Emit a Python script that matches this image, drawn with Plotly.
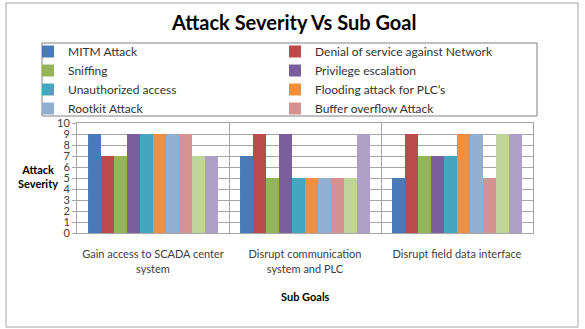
import plotly.graph_objects as go

categories = ["Gain access to SCADA center<br>system", "Disrupt communication<br>system and PLC", "Disrupt field data interface"]
series_names = ["MITM Attack", "Denial of service against Network", "Sniffing", "Privilege escalation",
                "Unauthorized access", "Flooding attack for PLC’s", "Rootkit Attack", "Buffer overflow Attack",
                "Series 9", "Series 10"]
values = [
    [9, 7, 5],
    [7, 9, 9],
    [7, 5, 7],
    [9, 9, 7],
    [9, 5, 7],
    [9, 5, 9],
    [9, 5, 9],
    [9, 5, 5],
    [7, 5, 9],
    [7, 9, 9],
]
in_legend = [True] * 8 + [False, False]
colors = ["#4A7BB7", "#BA4B48", "#96B454", "#7B5F9D", "#47A6BF", "#F0903F",
          "#92AED3", "#D69290", "#BFD49A", "#AE9FC5"]
yticks = list(range(0, 11))

FONT = "Lato"
L, R, T, B = 77, 52, 123, 96
W, H = 585, 329
pw, ph = W - L - R, H - T - B

def px(x):
    return (x - L) / pw

def py(y):
    return (H - B - y) / ph

fig = go.Figure()
for name, vals, col, leg in zip(series_names, values, colors, in_legend):
    fig.add_trace(go.Bar(x=categories, y=vals, name=name, marker=dict(color=col, line=dict(width=0)),
                         showlegend=leg))

fig.update_layout(
    width=W, height=H,
    margin=dict(l=L, r=R, t=T, b=B, autoexpand=False),
    paper_bgcolor="white", plot_bgcolor="white",
    barmode="group", bargap=0.145, bargroupgap=0,
    font=dict(family=FONT, size=12, color="#404040"),
    legend=dict(orientation="h", x=px(28), y=py(37), xanchor="left", yanchor="top",
                entrywidth=202, entrywidthmode="pixels", font=dict(size=12, color="#333333"),
                bgcolor="rgba(0,0,0,0)", borderwidth=0, itemwidth=30, traceorder="normal"),
    xaxis=dict(tickson="boundaries", showgrid=True, gridcolor="#A6A6A6", gridwidth=1,
               showline=True, linecolor="#A6A6A6", mirror=True, ticks="", tickangle=0, automargin=False,
               ticklabelstandoff=11,
               tickfont=dict(size=11, color="#404040", family=FONT)),
    yaxis=dict(range=[0, 10], tickvals=yticks, showgrid=True, gridcolor="#A6A6A6", gridwidth=1,
               showline=True, linecolor="#A6A6A6", mirror=True, ticks="outside", ticklen=4, automargin=False,
               tickcolor="#A6A6A6", tickfont=dict(size=11, color="#404040", family=FONT), zeroline=False),
    shapes=[
        dict(type="rect", xref="paper", yref="paper", x0=px(6), x1=px(578), y0=py(327), y1=py(3),
             line=dict(color="#A6A6A6", width=1), fillcolor="rgba(0,0,0,0)", layer="below"),
        dict(type="rect", xref="paper", yref="paper", x0=px(42), x1=px(537), y0=py(116), y1=py(43),
             line=dict(color="#808080", width=1), fillcolor="rgba(0,0,0,0)"),
    ],
    annotations=[
        dict(text="<b>Attack Severity Vs Sub Goal</b>", x=px(293), y=py(22), xref="paper", yref="paper",
             xanchor="center", yanchor="middle",
             showarrow=False, font=dict(size=20, color="#000000", family=FONT)),
        dict(text="<b>Attack<br>Severity</b>", x=px(38), y=py(176), xref="paper", yref="paper",
             xanchor="center", yanchor="middle",
             showarrow=False, font=dict(size=11, color="#000000", family=FONT), align="center"),
        dict(text="<b>Sub Goals</b>", x=px(305), y=py(296), xref="paper", yref="paper",
             xanchor="center", yanchor="middle",
             showarrow=False, font=dict(size=11, color="#000000", family=FONT)),
    ],
)

fig.write_html("out.html")
